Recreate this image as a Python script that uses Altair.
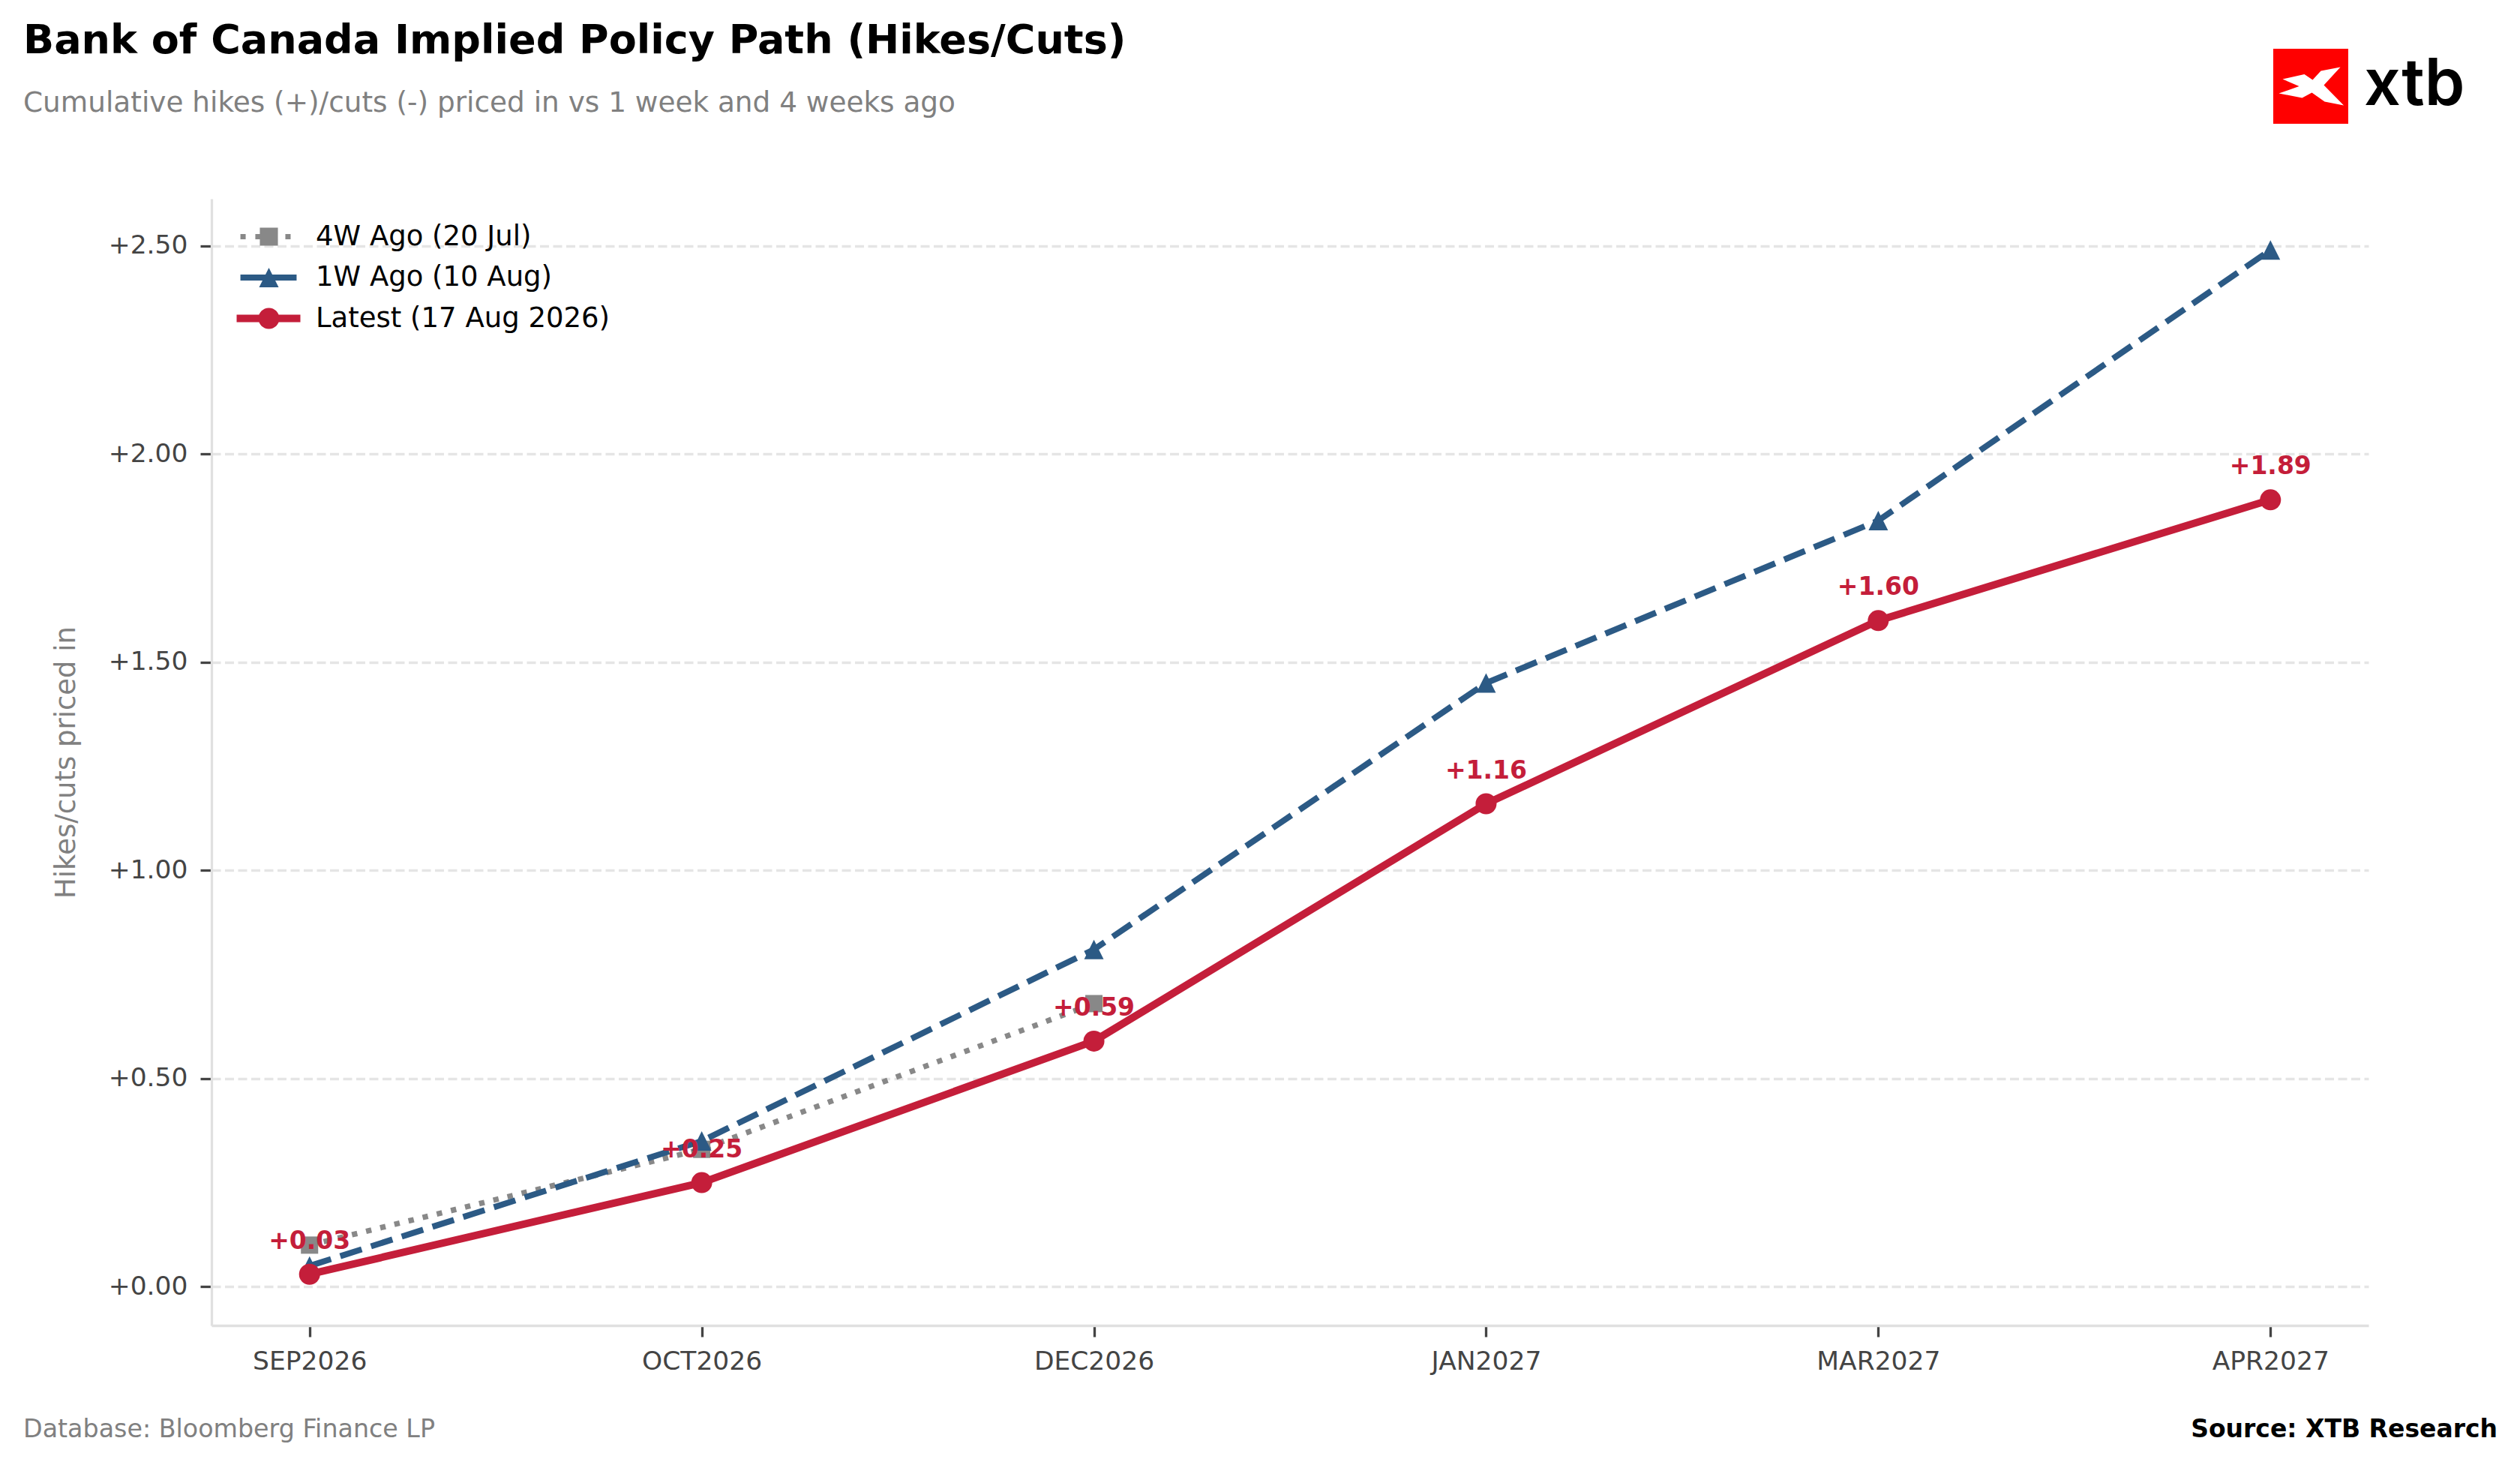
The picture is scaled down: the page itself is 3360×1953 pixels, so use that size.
import altair as alt
import pandas as pd

# ---------------- data ----------------
months = ["SEP2026", "OCT2026", "DEC2026", "JAN2027", "MAR2027", "APR2027"]
series_names = ["4W Ago (20 Jul)", "1W Ago (10 Aug)", "Latest (17 Aug 2026)"]
w4_values = [0.10, 0.33, 0.68]
w1_values = [0.05, 0.35, 0.81, 1.45, 1.84, 2.49]
latest_values = [0.03, 0.25, 0.59, 1.16, 1.60, 1.89]
y_ticks = [0.0, 0.5, 1.0, 1.5, 2.0, 2.5]

title_text = "Bank of Canada Implied Policy Path (Hikes/Cuts)"
subtitle_text = "Cumulative hikes (+)/cuts (-) priced in vs 1 week and 4 weeks ago"
y_title = "Hikes/cuts priced in"
footer_left = "Database: Bloomberg Finance LP"
footer_right = "Source: XTB Research"
logo_text = "xtb"

colors = ["#888888", "#2C5A85", "#C41E3A"]

rows = []
for name, vals in zip(series_names, [w4_values, w1_values, latest_values]):
    for m, v in zip(months, vals):
        rows.append({"series": name, "month": m, "value": v})
df = pd.DataFrame(rows)

W, H = 2876, 1502
FONT = "DejaVu Sans"

# ---------------- scales / axes ----------------
x_axis = alt.Axis(title=None, labelAngle=0, labelFont=FONT, labelFontSize=34.5,
                  labelColor="#444444", tickColor="#444444", tickWidth=3.3,
                  tickSize=15, labelPadding=16, domainColor="#e0e0e0",
                  domainWidth=3.3, grid=False)
y_axis = alt.Axis(values=y_ticks, format="+.2f", title=y_title,
                  titleFont=FONT, titleFontSize=37, titleColor="#808080",
                  titleFontWeight="normal", titleAngle=270, titleX=-183,
                  titleY=H / 2, titleAlign="center", titleBaseline="alphabetic",
                  labelFont=FONT, labelFontSize=34.5, labelColor="#444444",
                  tickColor="#444444", tickWidth=3.3, tickSize=15,
                  labelPadding=17, domainColor="#e0e0e0", domainWidth=3.3,
                  grid=True, gridColor="#e5e5e5", gridDash=[12, 5.5],
                  gridWidth=3.3)

x_enc = alt.X("month:N", sort=months,
              scale=alt.Scale(type="point", domain=months, padding=0.25),
              axis=x_axis)
y_enc = alt.Y("value:Q", scale=alt.Scale(domain=[-0.093, 2.613], nice=False, zero=False),
              axis=y_axis)


def series_layers(i, shape, size, width, dash=None):
    base = alt.Chart(df).transform_filter(alt.datum.series == series_names[i])
    line_kw = dict(color=colors[i], strokeWidth=width, strokeJoin="round")
    if dash is not None:
        line_kw["strokeDash"] = dash
        line_kw["strokeCap"] = "butt"
    line = base.mark_line(**line_kw).encode(x=x_enc, y=y_enc)
    pts = base.mark_point(filled=True, shape=shape, size=size, color=colors[i],
                          opacity=1).encode(x=x_enc, y=y_enc)
    return [line, pts]


tri_path = "M0,-1L1,1L-1,1Z"
gray_layers = series_layers(0, "square", 530, 7.3, [7.3, 12.1])
blue_layers = series_layers(1, tri_path, 676, 8, [30, 13])
red_layers = series_layers(2, "circle", 784, 10)

labels = alt.Chart(df).transform_filter(alt.datum.series == series_names[2]).mark_text(
    color=colors[2], font=FONT, fontSize=33, fontWeight="bold", dy=-34,
    baseline="alphabetic", align="center"
).encode(x=x_enc, y=y_enc, text=alt.Text("value:Q", format="+.2f"))

# legend symbols: line + marker drawn as one custom path (unit = 14px)
leg_gray = ("M-2.71,-0.25H-2.21V0.25H-2.71Z M-1.29,-0.25H-0.86V0.25H-1.29Z "
            "M-0.86,-0.86H0.86V0.86H-0.86Z M1.57,-0.25H2.07V0.25H1.57Z")
leg_blue = "M-2.71,-0.29H2.64V0.29H-2.71Z M0,-0.93L0.93,0.93L-0.93,0.93Z"
leg_red = "M-3.07,-0.36H3.0V0.36H-3.07Z M-1,0A1,1,0,1,1,1,0A1,1,0,1,1,-1,0Z"

legend = alt.Legend(title=None, orient="none", legendX=58, legendY=32,
                    symbolSize=784, symbolStrokeWidth=0, symbolOpacity=1,
                    symbolOffset=0, labelFont=FONT, labelFontSize=37,
                    labelColor="#000000", labelOffset=44, labelLimit=1000,
                    rowPadding=16.5, padding=0)
legend_layer = alt.Chart(df).mark_point(filled=True, opacity=0).encode(
    x=x_enc, y=y_enc,
    color=alt.Color("series:N", scale=alt.Scale(domain=series_names, range=colors),
                    legend=legend),
    shape=alt.Shape("series:N", scale=alt.Scale(domain=series_names,
                                                range=[leg_gray, leg_blue, leg_red]),
                    legend=legend),
)


def text_layer(txt, x, y, size, weight, color, align="left", font=FONT):
    return alt.Chart(pd.DataFrame({"t": [txt]})).mark_text(
        align=align, baseline="alphabetic", font=font, fontSize=size,
        fontWeight=weight, color=color
    ).encode(x=alt.value(x), y=alt.value(y), text="t:N")


title_l = text_layer(title_text, -251, -194, 54, "bold", "#000000")
subtitle_l = text_layer(subtitle_text, -251, -116, 37.4, "normal", "#808080")
footer_l = text_layer(footer_left, -251, 1651, 33.3, "normal", "#808080")
source_l = text_layer(footer_right, 3048, 1651, 33, "bold", "#000000", align="right")
xtb_l = text_layer(logo_text, 2870, -125, 86, 600, "#000000", font="Inter")

logo_df = pd.DataFrame({"k": ["logo"]})
logo_sq = alt.Chart(logo_df).mark_point(shape="square", filled=True, size=10000,
                                        color="#ff0000", opacity=1).encode(
    x=alt.value(2799), y=alt.value(-150))
x_path = ("M-0.75,-0.19L-0.17,-0.32L0.05,-0.17L0.27,-0.41L0.79,-0.51L0.35,-0.03"
          "L0.88,0.51L0.37,0.41L0.03,0.17L-0.23,0.31L-0.85,0.19L-0.31,0Z")
logo_x = alt.Chart(logo_df).mark_point(shape=x_path, filled=True, size=10000,
                                       color="#ffffff", opacity=1).encode(
    x=alt.value(2799), y=alt.value(-150))

chart = alt.layer(
    title_l, subtitle_l, footer_l, source_l, logo_sq, logo_x, xtb_l,
    *gray_layers, *blue_layers, *red_layers, labels, legend_layer
).properties(
    width=W, height=H,
    autosize=alt.AutoSizeParams(type="none"),
    padding={"left": 274, "top": 257, "right": 194, "bottom": 178},
    background="#ffffff",
).configure_view(stroke=None)

chart.save("out.html", embed_options={"renderer": "svg", "actions": False})
